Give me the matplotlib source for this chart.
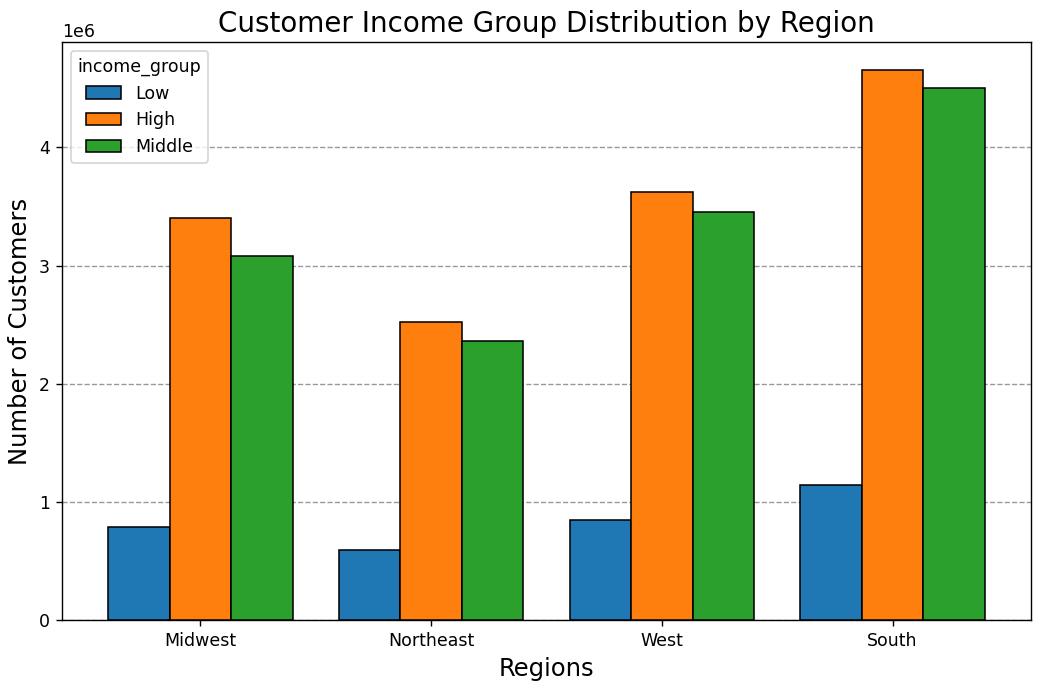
import matplotlib
matplotlib.use("Agg")
import matplotlib.pyplot as plt
import numpy as np

regions = ["Midwest", "Northeast", "West", "South"]
groups = ["Low", "High", "Middle"]
low = [0.786e6, 0.595e6, 0.848e6, 1.145e6]
high = [3.40e6, 2.52e6, 3.62e6, 4.66e6]
middle = [3.08e6, 2.36e6, 3.45e6, 4.50e6]
colors = ["#1f77b4", "#ff7f0e", "#2ca02c"]

fig, ax = plt.subplots(figsize=(8.304, 5.472), dpi=125)
x = np.arange(len(regions))
w = 0.8 / 3
for i, (vals, name) in enumerate(zip([low, high, middle], groups)):
    ax.bar(x + (i - 1) * w, vals, w, label=name, color=colors[i],
           edgecolor="black", linewidth=0.9, zorder=3)

ax.set_xticks(x)
ax.set_xticklabels(regions)
ax.set_xlim(-0.6, len(regions) - 0.4)
ax.grid(axis="y", linestyle="--", color="gray", alpha=0.8, linewidth=0.8, zorder=0)
ax.set_title("Customer Income Group Distribution by Region", fontsize=16)
ax.set_xlabel("Regions", fontsize=14)
ax.set_ylabel("Number of Customers", fontsize=14)
ax.legend(title="income_group", loc="upper left")

fig.subplots_adjust(left=0.0597, right=0.9933, top=0.9386, bottom=0.0936)
plt.savefig("out.png")
